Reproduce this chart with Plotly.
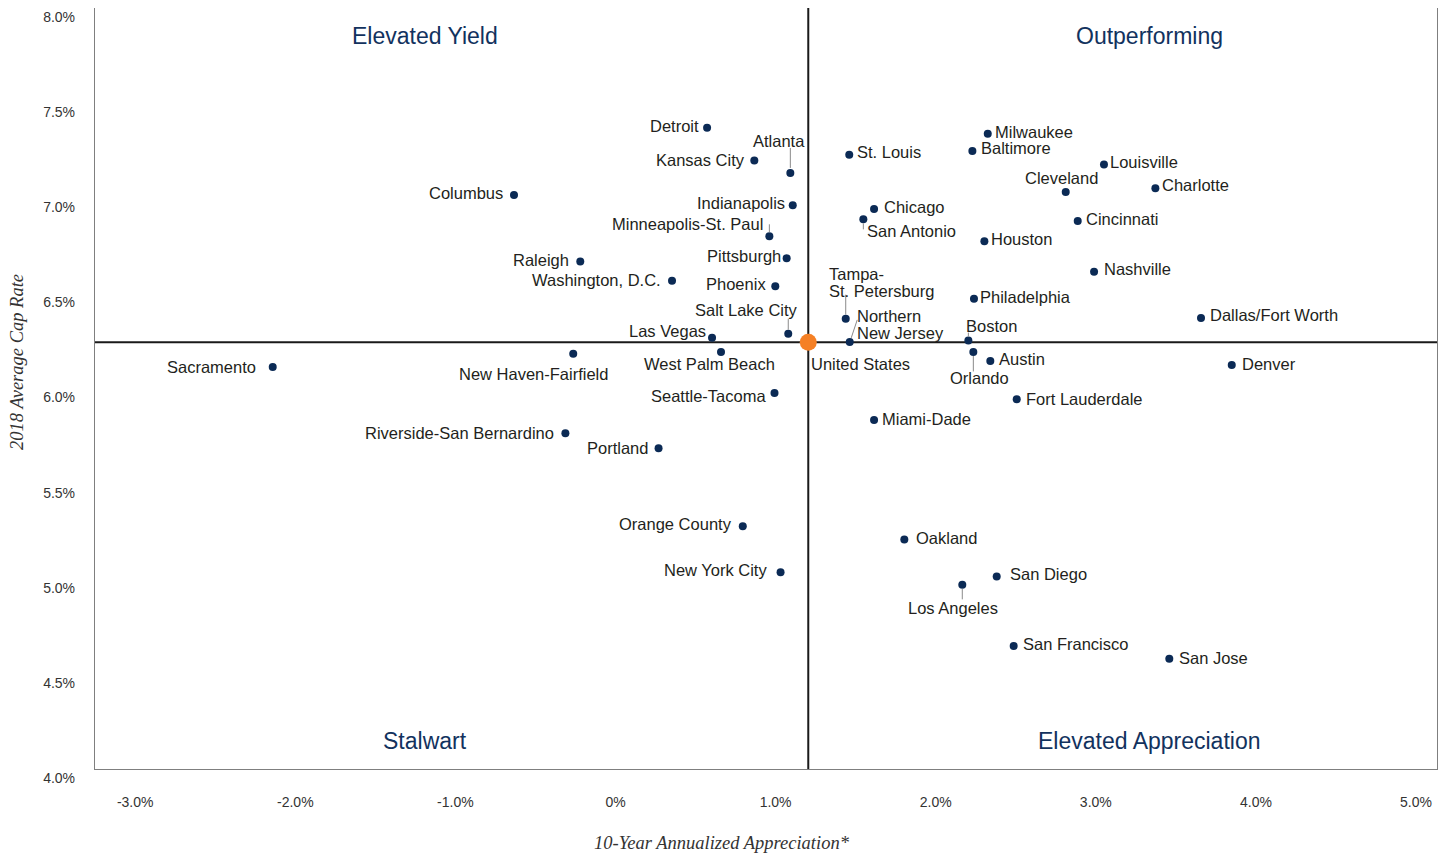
import plotly.graph_objects as go

# ---------------- data ----------------
cities = [
    "Detroit", "Kansas City", "Atlanta", "Columbus", "Indianapolis",
    "Minneapolis-St. Paul", "Raleigh", "Pittsburgh", "Washington, D.C.", "Phoenix",
    "Salt Lake City", "Las Vegas", "New Haven-Fairfield", "West Palm Beach", "Sacramento",
    "Seattle-Tacoma", "Riverside-San Bernardino", "Portland", "Orange County", "New York City",
    "St. Louis", "Milwaukee", "Baltimore", "Louisville", "Cleveland",
    "Charlotte", "Chicago", "San Antonio", "Cincinnati", "Houston",
    "Nashville", "Philadelphia", "Tampa-<br>St. Petersburg", "Northern<br>New Jersey", "Boston",
    "Orlando", "Austin", "Dallas/Fort Worth", "Denver", "Fort Lauderdale",
    "Miami-Dade", "Oakland", "San Diego", "Los Angeles", "San Francisco",
    "San Jose",
]
# 10-year annualized appreciation (%)
appreciation = [
    0.572, 0.867, 1.092, -0.634, 1.107,
    0.961, -0.220, 1.069, 0.353, 0.998,
    1.079, 0.603, -0.264, 0.659, -2.141,
    0.993, -0.313, 0.269, 0.795, 1.031,
    1.460, 2.325, 2.229, 3.051, 2.812,
    3.372, 1.615, 1.548, 2.887, 2.304,
    2.989, 2.239, 1.438, 1.463, 2.204,
    2.235, 2.341, 3.657, 3.849, 2.506,
    1.615, 1.804, 2.381, 2.166, 2.487,
    3.459,
]
# 2018 average cap rate (%)
cap_rate = [
    7.371, 7.198, 7.133, 7.017, 6.963,
    6.800, 6.667, 6.684, 6.567, 6.537,
    6.288, 6.267, 6.182, 6.192, 6.113,
    5.977, 5.765, 5.686, 5.276, 5.034,
    7.229, 7.339, 7.249, 7.177, 7.033,
    7.052, 6.944, 6.889, 6.881, 6.774,
    6.614, 6.472, 6.367, 6.245, 6.252,
    6.192, 6.145, 6.371, 6.124, 5.943,
    5.835, 5.206, 5.012, 4.968, 4.647,
    4.579,
]
us_name = "United States"
us_appreciation = 1.204
us_cap_rate = 6.243

x_tick_values = [-3, -2, -1, 0, 1, 2, 3, 4, 5]
x_tick_labels = ["-3.0%", "-2.0%", "-1.0%", "0%", "1.0%", "2.0%", "3.0%", "4.0%", "5.0%"]
y_tick_values = [4.0, 4.5, 5.0, 5.5, 6.0, 6.5, 7.0, 7.5, 8.0]
y_tick_labels = ["4.0%", "4.5%", "5.0%", "5.5%", "6.0%", "6.5%", "7.0%", "7.5%", "8.0%"]

quadrant_titles = ["Elevated Yield", "Outperforming", "Stalwart", "Elevated Appreciation"]
x_title = "10-Year Annualized Appreciation*"
y_title = "2018 Average Cap Rate"

# ---------------- styling / label placement (pixels) ----------------
NAVY = "#0b2a55"
ORANGE = "#f58025"
TITLE_NAVY = "#12325e"
TEXT = "#231f20"
LABEL_FONT = dict(family="Liberation Sans, Arial, sans-serif", size=16.5, color=TEXT)
LINE_SPACING = 17

# name -> (xanchor, dx, dy, leader) ; dy positive = up ; leader = (x0, y0, x1, y1) px offsets
placement = {
    "Detroit": ("right", -6, 2, None),
    "Kansas City": ("right", -7, 0.5, None),
    "Atlanta": ("right", 17, 32, (0, 5, 0, 25)),
    "Columbus": ("right", -9, 2, None),
    "Indianapolis": ("right", -5.5, 2, None),
    "Minneapolis-St. Paul": ("right", -4, 12, (0, 4, 0, 12)),
    "Raleigh": ("right", -9, 2, None),
    "Pittsburgh": ("right", -3.5, 2.5, None),
    "Washington, D.C.": ("right", -9, 1, None),
    "Phoenix": ("right", -7, 2, None),
    "Salt Lake City": ("right", 11.5, 24, (0, 4, 0, 15)),
    "Las Vegas": ("right", -4.5, 7, None),
    "New Haven-Fairfield": ("right", 37, -20, None),
    "West Palm Beach": ("center", -12, -12, None),
    "Sacramento": ("right", -15, 0, None),
    "Seattle-Tacoma": ("right", -6.5, -3.5, None),
    "Riverside-San Bernardino": ("right", -9, 0.5, None),
    "Portland": ("right", -9, 0, None),
    "Orange County": ("right", -9, 2.5, None),
    "New York City": ("right", -11.5, 2.5, None),
    "St. Louis": ("left", 5.5, 2.5, None),
    "Milwaukee": ("left", 5.5, 2, None),
    "Baltimore": ("left", 6.5, 2.5, None),
    "Louisville": ("left", 4.5, 2.5, None),
    "Cleveland": ("right", 34, 13.5, None),
    "Charlotte": ("left", 5, 3.5, None),
    "Chicago": ("left", 7.5, 1.5, None),
    "San Antonio": ("left", 1.5, -12, (0, -4, 0, -10)),
    "Cincinnati": ("left", 6, 2, None),
    "Houston": ("left", 4.5, 2, None),
    "Nashville": ("left", 7.5, 2.5, None),
    "Philadelphia": ("left", 4.5, 1.5, None),
    "Tampa-<br>St. Petersburg": ("left", -19, 44.3, (0, 4, 0, 24)),
    "Northern<br>New Jersey": ("left", 5.5, 25.6, (1.5, 4, 7.5, 22)),
    "Boston": ("left", -4.5, 14.5, (0, 4, 0, 8)),
    "Orlando": ("center", 6.5, -26, (0, -4, 0, -19.5)),
    "Austin": ("left", 7, 1.5, None),
    "Dallas/Fort Worth": ("left", 6.5, 2.5, None),
    "Denver": ("left", 8, 1, None),
    "Fort Lauderdale": ("left", 7.5, 0.5, None),
    "Miami-Dade": ("left", 6, 1, None),
    "Oakland": ("left", 9.5, 1.5, None),
    "San Diego": ("left", 11.5, 2.5, None),
    "Los Angeles": ("center", -9, -23, (0, -4, 0, -14.5)),
    "San Francisco": ("left", 7.5, 1.5, None),
    "San Jose": ("left", 8, 1, None),
    us_name: ("left", 0.5, -21.5, None),
}

fig = go.Figure()

fig.add_trace(go.Scatter(
    x=appreciation, y=cap_rate, mode="markers",
    marker=dict(size=8, color=NAVY), text=[c.replace("<br>", " ") for c in cities],
    hoverinfo="text", cliponaxis=False,
))
fig.add_trace(go.Scatter(
    x=[us_appreciation], y=[us_cap_rate], mode="markers",
    marker=dict(size=17, color=ORANGE), text=[us_name], hoverinfo="text",
    cliponaxis=False,
))

shapes = [
    dict(type="line", xref="x", yref="paper", x0=us_appreciation, x1=us_appreciation,
         y0=0, y1=1, line=dict(color="#1a1a1a", width=2), layer="below"),
    dict(type="line", xref="paper", yref="y", x0=0, x1=1, y0=us_cap_rate, y1=us_cap_rate,
         line=dict(color="#1a1a1a", width=2), layer="below"),
]

annotations = []
all_names = cities + [us_name]
all_x = appreciation + [us_appreciation]
all_y = cap_rate + [us_cap_rate]
for name, xv, yv in zip(all_names, all_x, all_y):
    xanchor, dx, dy, leader = placement[name]
    lines = name.split("<br>")
    for i, line in enumerate(lines):
        annotations.append(dict(
            x=xv, y=yv, xref="x", yref="y", text=line, showarrow=False,
            xanchor=xanchor, yanchor="middle", xshift=dx, yshift=dy - i * LINE_SPACING,
            font=LABEL_FONT,
        ))
    if leader is not None:
        x0, y0, x1, y1 = leader
        shapes.append(dict(
            type="line", xref="x", yref="y", xsizemode="pixel", ysizemode="pixel",
            xanchor=xv, yanchor=yv, x0=x0, x1=x1, y0=y0, y1=y1,
            line=dict(color="#8a8a8a", width=1),
        ))

quad_pos = [(0.2458, 0.9632), (0.7858, 0.9632), (0.2458, 0.0374), (0.7858, 0.0374)]
for t, (px, py) in zip(quadrant_titles, quad_pos):
    annotations.append(dict(
        x=px, y=py, xref="paper", yref="paper", text=t, showarrow=False,
        xanchor="center", yanchor="middle",
        font=dict(family="Liberation Sans, Arial, sans-serif", size=23, color=TITLE_NAVY),
    ))

annotations.append(dict(
    x=0.467, y=-0.097, xref="paper", yref="paper", text=x_title, showarrow=False,
    xanchor="center", yanchor="middle",
    font=dict(family="Liberation Serif, Times New Roman, serif", size=18.5, color="#333333", style="italic"),
))
annotations.append(dict(
    x=-0.0581, y=0.535, xref="paper", yref="paper", text=y_title, showarrow=False,
    xanchor="center", yanchor="middle", textangle=-90,
    font=dict(family="Liberation Serif, Times New Roman, serif", size=18.5, color="#333333", style="italic"),
))

tick_font = dict(family="Liberation Sans, Arial, sans-serif", size=14, color="#333333")

# the page body adds an 8px offset, so the figure is 8px smaller with margins compensated
fig.update_layout(
    width=1438, height=848,
    margin=dict(l=87, r=9, t=0, b=87),
    paper_bgcolor="white", plot_bgcolor="white",
    showlegend=False,
    shapes=shapes,
    annotations=annotations,
    xaxis=dict(
        range=[-3.251, 5.131], tickvals=x_tick_values, ticktext=x_tick_labels,
        showgrid=False, zeroline=False, showline=True, mirror=True,
        linecolor="#7f7f7f", linewidth=1.3, ticks="", tickfont=tick_font,
        ticklabelstandoff=20, automargin=False,
    ),
    yaxis=dict(
        range=[4, 8], tickvals=y_tick_values, ticktext=y_tick_labels,
        showgrid=False, zeroline=False, showline=True, mirror=True,
        linecolor="#7f7f7f", linewidth=1.3, ticks="", tickfont=tick_font,
        ticklabelstandoff=16, ticklabelshift=9, automargin=False,
    ),
)

fig.write_html("out.html")
